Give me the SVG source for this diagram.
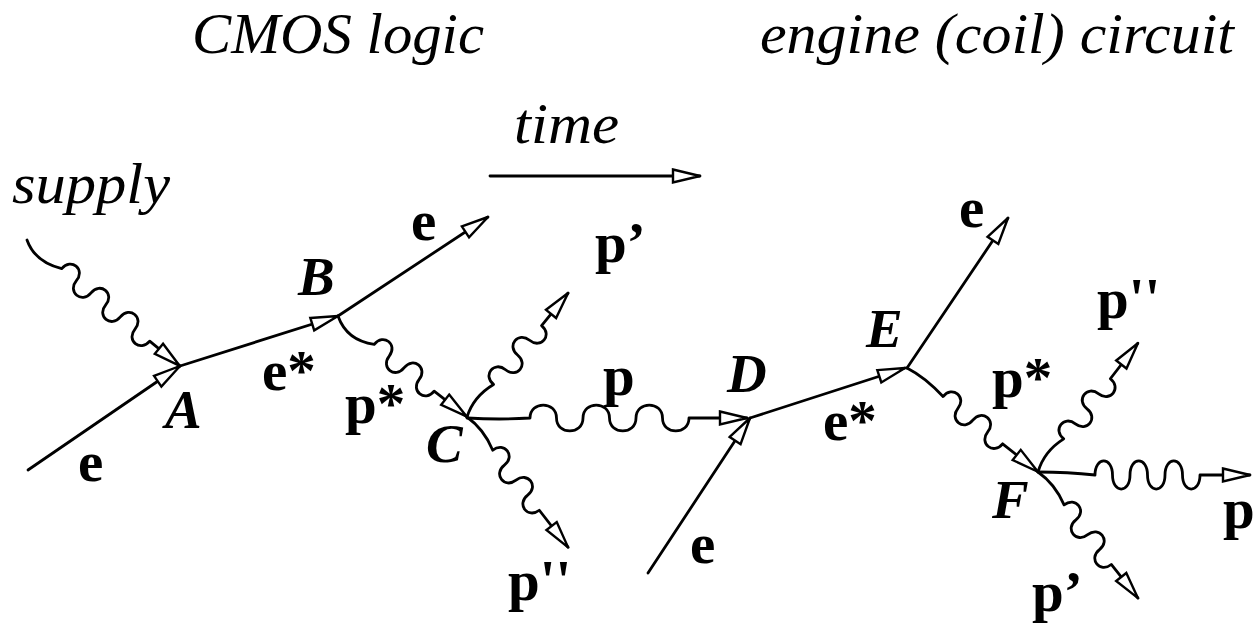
<svg xmlns="http://www.w3.org/2000/svg" width="1260" height="623" viewBox="0 0 1260 623">
<style>
.ttl{font-family:"Liberation Serif","Times New Roman",serif;font-style:italic;font-size:57px;fill:#000}
.lb{font-family:"Liberation Serif","Times New Roman",serif;font-weight:bold;font-size:57px;fill:#000}
.vx{font-family:"Liberation Serif","Times New Roman",serif;font-weight:bold;font-style:italic;font-size:55px;fill:#000}
.ln{fill:none;stroke:#000;stroke-width:2.8;stroke-linecap:round;stroke-linejoin:round;marker-end:url(#arr)}
</style>
<defs>
<marker id="arr" markerUnits="userSpaceOnUse" markerWidth="40" markerHeight="24" viewBox="-4 -12 40 24" refX="27" refY="0" orient="auto">
<path d="M0,-6.5 L27,0 L0,6.5 Z" fill="#fff" stroke="#000" stroke-width="2.4"/>
</marker>
</defs>
<rect width="1260" height="623" fill="#fff"/>

<g id="titles">
<text class="ttl" x="192" y="53" textLength="292" lengthAdjust="spacingAndGlyphs">CMOS logic</text>
<text class="ttl" x="760" y="53" textLength="474" lengthAdjust="spacingAndGlyphs">engine (coil) circuit</text>
<text class="ttl" x="514" y="143" textLength="105" lengthAdjust="spacingAndGlyphs">time</text>
<text class="ttl" x="12" y="203" textLength="158" lengthAdjust="spacingAndGlyphs">supply</text>
</g>

<g id="connectors">
<!-- time arrow -->
<path class="ln" d="M490,176 L700,176"/>
<!-- fermion lines -->
<path class="ln" d="M28,470 L180,366"/>
<path class="ln" d="M180,366 L338,316"/>
<path class="ln" d="M338,316 L488,217"/>
<path class="ln" d="M648,573 L750,418"/>
<path class="ln" d="M750,418 L905,368"/>
<path class="ln" d="M907,368 L1008,218"/>
<!-- photon: supply -> A -->
<path class="ln" transform="translate(27,240) rotate(39.5)" d="M0,0 Q20,12 45,0 c0,-14.7 19,-14.7 19,0 c0,14.7 19,14.7 19,0 c0,-14.7 19,-14.7 19,0 c0,14.7 19,14.7 19,0 c0,-14.7 19,-14.7 19,0 c0,14.7 19,14.7 19,0 L198,0"/>
<!-- photon p* B -> C -->
<path class="ln" transform="translate(338,316) rotate(38)" d="M0,0 Q22,14 46,0 c0,-14.7 19,-14.7 19,0 c0,14.7 19,14.7 19,0 c0,-14.7 19,-14.7 19,0 c0,14.7 19,14.7 19,0 L163,0"/>
<!-- photon p' from C -->
<path class="ln" transform="translate(467,417) rotate(-50.8)" d="M0,0 Q20,-8 42,0 c0,-14.7 19,-14.7 19,0 c0,14.7 19,14.7 19,0 c0,-14.7 19,-14.7 19,0 c0,14.7 19,14.7 19,0 L160,0"/>
<!-- photon p C -> D -->
<path class="ln" d="M467,418 Q500,420 530,418 c0,-17.3 26.5,-17.3 26.5,0 c0,17.3 26.5,17.3 26.5,0 c0,-17.3 26.5,-17.3 26.5,0 c0,17.3 26.5,17.3 26.5,0 c0,-17.3 26.5,-17.3 26.5,0 c0,17.3 26.5,17.3 26.5,0 L747,418"/>
<!-- photon p'' from C -->
<path class="ln" transform="translate(467,417) rotate(52.2)" d="M0,0 Q20,-6 42,0 c0,-14.7 19,-14.7 19,0 c0,14.7 19,14.7 19,0 c0,-14.7 19,-14.7 19,0 c0,14.7 19,14.7 19,0 L165,0"/>
<!-- photon p* E -> F -->
<path class="ln" transform="translate(907,368) rotate(38.4)" d="M0,0 Q20,-4 46,0 c0,-14.7 19,-14.7 19,0 c0,14.7 19,14.7 19,0 c0,-14.7 19,-14.7 19,0 c0,14.7 19,14.7 19,0 L167,0"/>
<!-- photon p'' from F -->
<path class="ln" transform="translate(1038,472) rotate(-52.2)" d="M0,0 Q20,-8 42,0 c0,-14.7 19,-14.7 19,0 c0,14.7 19,14.7 19,0 c0,-14.7 19,-14.7 19,0 c0,14.7 19,14.7 19,0 L163,0"/>
<!-- photon p from F -->
<path class="ln" d="M1038,472 Q1068,472 1095,475 c0,-18.7 17.5,-18.7 17.5,0 c0,18.7 17.5,18.7 17.5,0 c0,-18.7 17.5,-18.7 17.5,0 c0,18.7 17.5,18.7 17.5,0 c0,-18.7 17.5,-18.7 17.5,0 c0,18.7 17.5,18.7 17.5,0 L1250,475"/>
<!-- photon p' from F -->
<path class="ln" transform="translate(1038,472) rotate(51.6)" d="M0,0 Q20,-6 42,0 c0,-14.7 19,-14.7 19,0 c0,14.7 19,14.7 19,0 c0,-14.7 19,-14.7 19,0 c0,14.7 19,14.7 19,0 L161,0"/>
</g>

<g id="edge-labels">
<text class="lb" x="78" y="481">e</text>
<text class="lb" x="262" y="390">e*</text>
<text class="lb" x="411" y="240">e</text>
<text class="lb" x="345" y="423">p*</text>
<text class="lb" x="595" y="262">p’</text>
<text class="lb" x="603" y="395">p</text>
<text class="lb" x="508" y="600">p''</text>
<text class="lb" x="690" y="563">e</text>
<text class="lb" x="823" y="440">e*</text>
<text class="lb" x="959" y="227">e</text>
<text class="lb" x="992" y="397">p*</text>
<text class="lb" x="1097" y="318">p''</text>
<text class="lb" x="1223" y="528">p</text>
<text class="lb" x="1032" y="611">p’</text>
</g>

<g id="node-A"><text class="vx" x="165" y="428">A</text></g>
<g id="node-B"><text class="vx" x="298" y="295">B</text></g>
<g id="node-C"><text class="vx" x="426" y="462">C</text></g>
<g id="node-D"><text class="vx" x="727" y="392">D</text></g>
<g id="node-E"><text class="vx" x="866" y="347">E</text></g>
<g id="node-F"><text class="vx" x="992" y="518">F</text></g>
</svg>
